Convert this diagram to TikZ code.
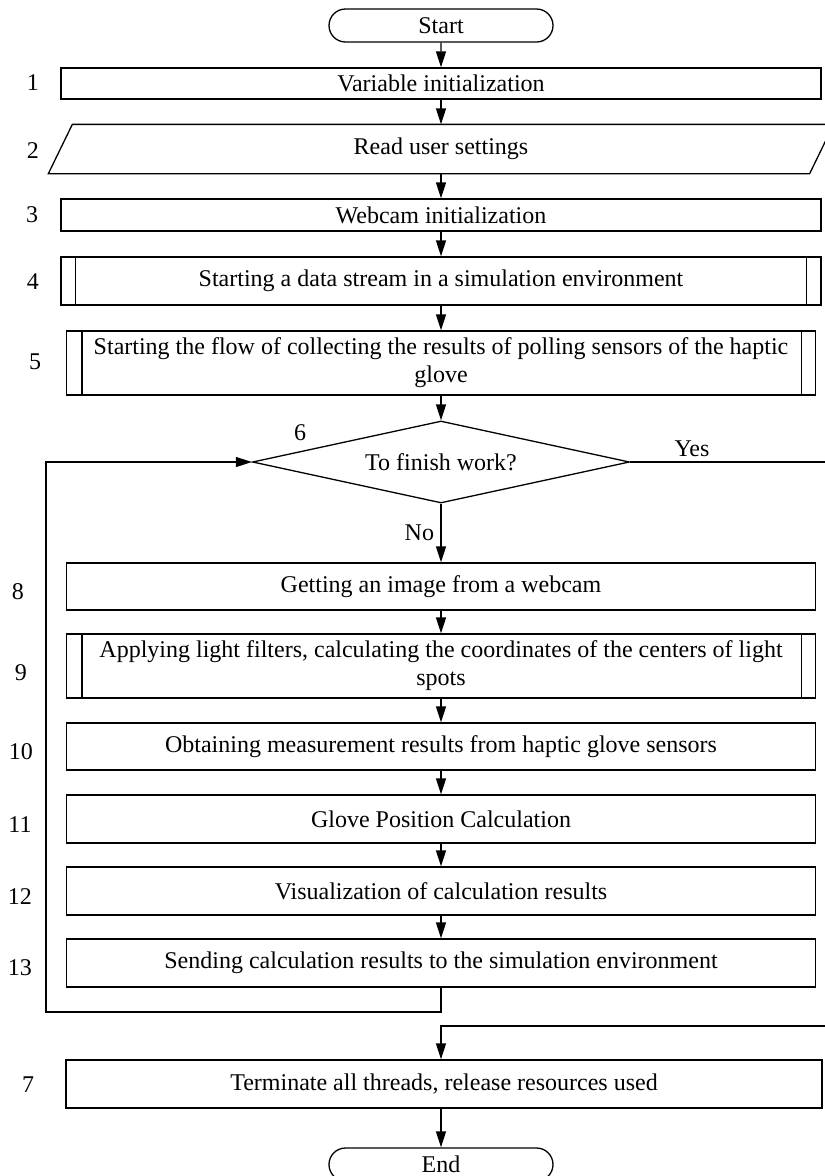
\documentclass[tikz,border=0pt]{standalone}
\usepackage{fontspec}
\setmainfont{Liberation Serif}
\usetikzlibrary{shapes.geometric,shapes.misc,arrows.meta}

\begin{document}
\begin{tikzpicture}[x=1pt,y=-1pt,
	font=\fontsize{24}{28}\selectfont,
	line width=1.3pt,
	procbox/.style={draw,rectangle,inner sep=0pt,minimum height=#1},
	termbox/.style={draw,rounded rectangle,inner sep=0pt,minimum width=224pt,minimum height=33pt},
	decbox/.style={draw,diamond,aspect=4.6,inner sep=0pt,minimum width=377pt,minimum height=82pt},
	numlabel/.style={inner sep=0pt},
	flowarrow/.style={-{Triangle[length=16pt,width=10pt]}}]
	\clip (0,0) rectangle (825,1176);
	% blocks
	\node[termbox] (start) at (441,25.5) {Start};
	\node[procbox=31pt,minimum width=760pt] (n1) at (441,83.5) {Variable initialization};
	\node[procbox=48pt,minimum width=760pt,draw=none] (n2) at (441,149) {Read user settings};
	\draw ([xshift=12pt]n2.north west) -- ([xshift=12pt]n2.north east) -- ([xshift=-12pt]n2.south east) -- ([xshift=-12pt]n2.south west) -- cycle;
	\node[procbox=32pt,minimum width=760pt] (n3) at (441,215) {Webcam initialization};
	\node[procbox=48pt,minimum width=760pt] (n4) at (441,281) {Starting a data stream in a simulation environment};
	\draw ([xshift=15pt]n4.north west) -- ([xshift=15pt]n4.south west) ([xshift=-15pt]n4.north east) -- ([xshift=-15pt]n4.south east);
	\node[procbox=64pt,minimum width=749pt,align=center] (n5) at (441,363) {Starting the flow of collecting the results of polling sensors of the haptic\\glove};
	\draw ([xshift=16pt]n5.north west) -- ([xshift=16pt]n5.south west) ([xshift=-15pt]n5.north east) -- ([xshift=-15pt]n5.south east);
	\node[decbox] (n6) at (441,462) {To finish work?};
	\node[procbox=47pt,minimum width=749pt] (n8) at (441,586.5) {Getting an image from a webcam};
	\node[procbox=64pt,minimum width=749pt,align=center] (n9) at (441,666) {Applying light filters, calculating the coordinates of the centers of light\\spots};
	\draw ([xshift=16pt]n9.north west) -- ([xshift=16pt]n9.south west) ([xshift=-15pt]n9.north east) -- ([xshift=-15pt]n9.south east);
	\node[procbox=47pt,minimum width=749pt] (n10) at (441,746.5) {Obtaining measurement results from haptic glove sensors};
	\node[procbox=48pt,minimum width=749pt] (n11) at (441,819) {Glove Position Calculation};
	\node[procbox=48pt,minimum width=749pt] (n12) at (441,891) {Visualization of calculation results};
	\node[procbox=48pt,minimum width=749pt] (n13) at (441,963) {Sending calculation results to the simulation environment};
	\node[procbox=48pt,minimum width=756pt] (n7) at (444,1084) {Terminate all threads, release resources used};
	\node[termbox] (end) at (441,1164.5) {End};
	% step numbers
	\node[numlabel] (l1) at (33,83) {1};
	\node[numlabel] (l2) at (33,151) {2};
	\node[numlabel] (l3) at (32,215) {3};
	\node[numlabel] (l4) at (33,282) {4};
	\node[numlabel] (l5) at (35,362) {5};
	\node[numlabel] (l6) at (300,433) {6};
	\node[numlabel] (l8) at (18,592) {8};
	\node[numlabel] (l9) at (21,673) {9};
	\node[numlabel] (l10) at (21,752) {10};
	\node[numlabel] (l11) at (20,825) {11};
	\node[numlabel] (l12) at (20,897) {12};
	\node[numlabel] (l13) at (20,968) {13};
	\node[numlabel] (l7) at (28,1085) {7};
	% connectors
	\draw[flowarrow] (start) -- (n1);
	\draw[flowarrow] (n1) -- (n2.north);
	\draw[flowarrow] (n2.south) -- (n3);
	\draw[flowarrow] (n3) -- (n4);
	\draw[flowarrow] (n4) -- (n5);
	\draw[flowarrow] (n5) -- (n6);
	\draw[flowarrow] (n6) -- (n8) node[midway,left=3pt] {No};
	\draw[flowarrow] (n8) -- (n9);
	\draw[flowarrow] (n9) -- (n10);
	\draw[flowarrow] (n10) -- (n11);
	\draw[flowarrow] (n11) -- (n12);
	\draw[flowarrow] (n12) -- (n13);
	\coordinate (loopbl) at (46,1012);
	\draw[flowarrow] (n13.south) |- (loopbl) |- (n6.west);
	\coordinate (yesr) at (835,1026);
	\draw[flowarrow] (n6.east) -| (yesr) -| (n7.north -| n6.south);
	\node[numlabel] (yes) at (692,449) {Yes};
	\draw[flowarrow] (n7.south -| end.north) -- (end.north);
\end{tikzpicture}
\end{document}
